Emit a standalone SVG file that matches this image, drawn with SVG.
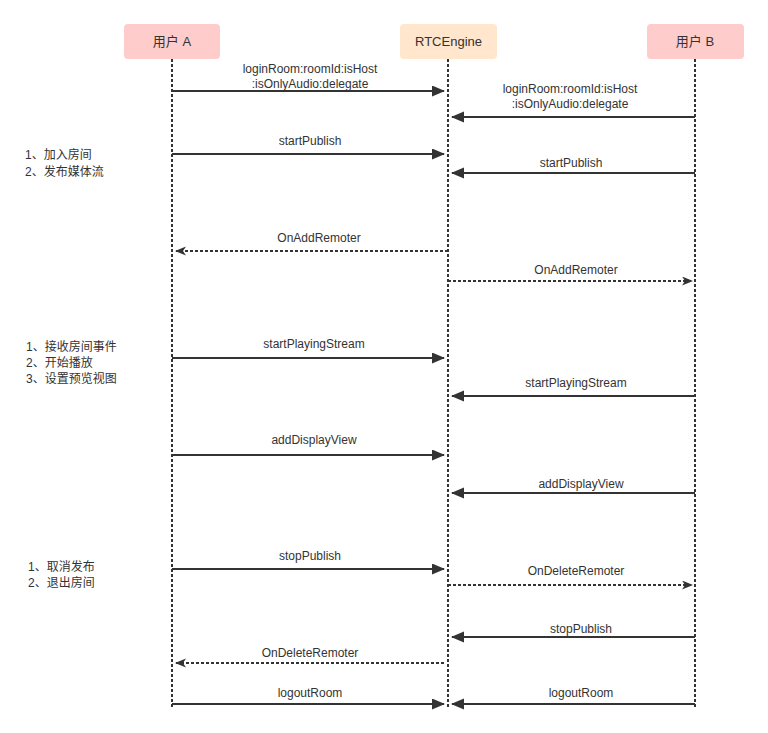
<svg xmlns="http://www.w3.org/2000/svg" width="768" height="733" viewBox="0 0 768 733">
<defs>
<style>
text{font-family:"Liberation Sans","Noto Sans CJK SC",sans-serif;font-size:12px;fill:#333}
.c{text-anchor:middle}
.life{stroke:#333;stroke-width:2;stroke-dasharray:3 2;fill:none}
.msg{stroke:#333;stroke-width:2;fill:none;marker-end:url(#solid)}
.ret{stroke:#333;stroke-width:2;stroke-dasharray:3 2;fill:none;marker-end:url(#open)}
</style>
<marker id="solid" markerUnits="userSpaceOnUse" markerWidth="14" markerHeight="12" refX="12" refY="5.5" orient="auto">
<path d="M0,0 L13,5.5 L0,11 z" fill="#333"/>
</marker>
<marker id="open" markerUnits="userSpaceOnUse" markerWidth="12" markerHeight="10" refX="10" refY="4.5" orient="auto">
<path d="M0,0 L11,4.5 L0,9 L3,4.5 z" fill="#333"/>
</marker>
</defs>
<rect width="768" height="733" fill="#fff"/>
<g id="userA">
<rect x="124" y="24" width="96" height="35" rx="4" fill="#ffcccc"/>
<text class="c" x="172" y="46" style="font-size:13px">用户 A</text>
<line class="life" x1="172" y1="59" x2="172" y2="708"/>
</g>
<g id="rtcEngine">
<rect x="400" y="24" width="97" height="35" rx="4" fill="#ffe6cc"/>
<text class="c" x="448.5" y="46" style="font-size:13px">RTCEngine</text>
<line class="life" x1="448" y1="59" x2="448" y2="708"/>
</g>
<g id="userB">
<rect x="647" y="24" width="97" height="35" rx="4" fill="#ffcccc"/>
<text class="c" x="695" y="46" style="font-size:13px">用户 B</text>
<line class="life" x1="695" y1="59" x2="695" y2="708"/>
</g>
<g id="notes">
<text x="25" y="159">1、加入房间</text>
<text x="25" y="176">2、发布媒体流</text>
<text x="26" y="351">1、接收房间事件</text>
<text x="26" y="367">2、开始播放</text>
<text x="26" y="383">3、设置预览视图</text>
<text x="28" y="571">1、取消发布</text>
<text x="28" y="587">2、退出房间</text>
</g>
<g id="connectors">
<line class="msg" x1="172" y1="91" x2="444" y2="91"/>
<text class="c" x="310" y="73">loginRoom:roomId:isHost</text>
<text class="c" x="310" y="88">:isOnlyAudio:delegate</text>

<line class="msg" x1="695" y1="117" x2="452" y2="117"/>
<text class="c" x="570" y="93">loginRoom:roomId:isHost</text>
<text class="c" x="570" y="108">:isOnlyAudio:delegate</text>

<line class="msg" x1="172" y1="154" x2="444" y2="154"/>
<text class="c" x="310" y="145">startPublish</text>

<line class="msg" x1="695" y1="173" x2="452" y2="173"/>
<text class="c" x="571" y="167">startPublish</text>

<line class="ret" x1="448" y1="251" x2="176" y2="251"/>
<text class="c" x="319" y="242">OnAddRemoter</text>

<line class="ret" x1="448" y1="281" x2="692" y2="281"/>
<text class="c" x="576" y="274">OnAddRemoter</text>

<line class="msg" x1="172" y1="358" x2="444" y2="358"/>
<text class="c" x="314" y="348">startPlayingStream</text>

<line class="msg" x1="695" y1="396" x2="452" y2="396"/>
<text class="c" x="576" y="387">startPlayingStream</text>

<line class="msg" x1="172" y1="455" x2="444" y2="455"/>
<text class="c" x="314" y="444">addDisplayView</text>

<line class="msg" x1="695" y1="493" x2="452" y2="493"/>
<text class="c" x="581" y="488">addDisplayView</text>

<line class="msg" x1="172" y1="569" x2="444" y2="569"/>
<text class="c" x="310" y="560">stopPublish</text>

<line class="ret" x1="448" y1="585" x2="692" y2="585"/>
<text class="c" x="576" y="575">OnDeleteRemoter</text>

<line class="msg" x1="695" y1="637" x2="452" y2="637"/>
<text class="c" x="581" y="633">stopPublish</text>

<line class="ret" x1="444" y1="663" x2="176" y2="663"/>
<text class="c" x="310" y="657">OnDeleteRemoter</text>

<line class="msg" x1="172" y1="704" x2="444" y2="704"/>
<text class="c" x="310" y="697">logoutRoom</text>

<line class="msg" x1="695" y1="704" x2="452" y2="704"/>
<text class="c" x="581" y="697">logoutRoom</text>
</g>
</svg>
